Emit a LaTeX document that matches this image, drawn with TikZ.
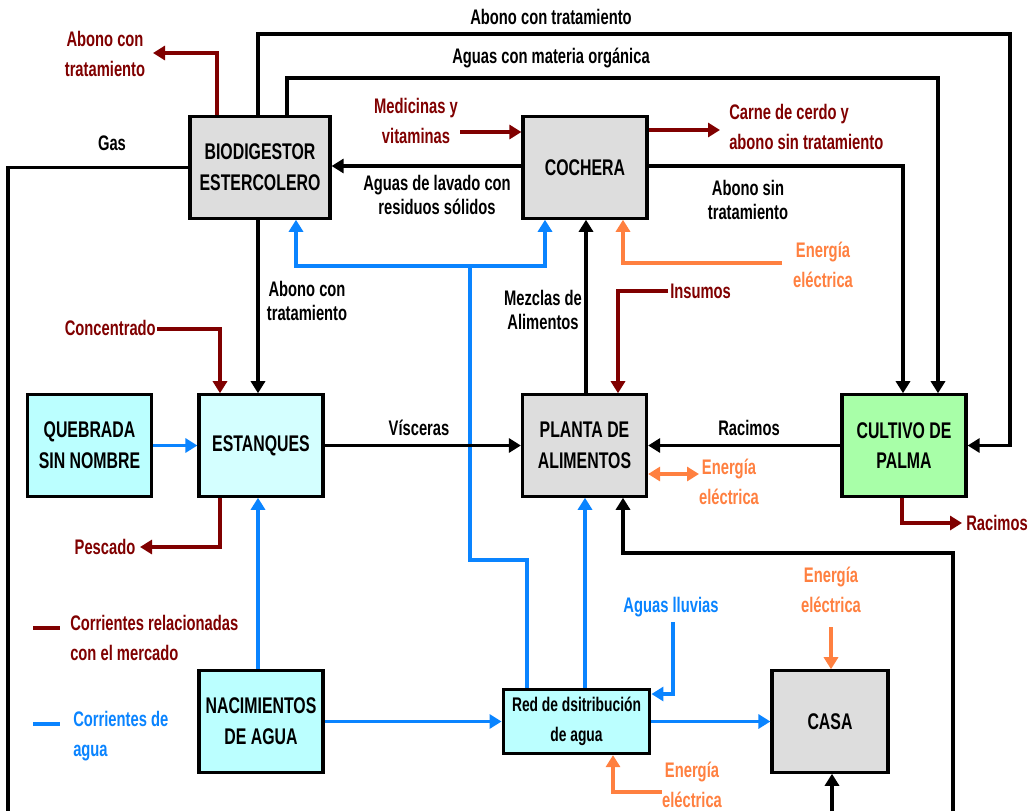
\documentclass[tikz,border=0pt]{standalone}
\usepackage{fontspec}
\setmainfont{Liberation Sans}[FakeStretch=0.7]
\usetikzlibrary{arrows.meta}
\definecolor{mercado}{HTML}{800000}
\definecolor{agua}{HTML}{0A84FF}
\definecolor{energia}{HTML}{FF8040}
\definecolor{gris}{HTML}{DDDDDD}
\definecolor{cian}{HTML}{BBFFFF}
\definecolor{cianclaro}{HTML}{D4FFFF}
\definecolor{verde}{HTML}{A8FFA8}
\tikzset{
  caja/.style={draw=black,line width=2.4pt,inner sep=0pt,minimum width=93pt,minimum height=76pt,align=center,font=\bfseries\fontsize{17}{23}\selectfont},
  nota/.style={align=center,inner sep=0pt,font=\bfseries\fontsize{15.8}{17.5}\selectfont},
  notac/.style={nota,font=\bfseries\fontsize{15.8}{22.5}\selectfont},
  lin/.style={line width=2.3pt},
  neg/.style={lin,-{Triangle[length=9pt,width=10.5pt]}},
  mkt/.style={neg,draw=mercado},
  agu/.style={neg,draw=agua},
  ene/.style={neg,draw=energia}
}
\begin{document}
\begin{tikzpicture}[x=0.75pt,y=-0.75pt]
\fill[white] (0,0) rectangle (1034,811);
\useasboundingbox (0,0) rectangle (1034,811);
\node[caja,fill=gris,minimum width=105pt] (bio) at (260,167.5) {BIODIGESTOR\\ESTERCOLERO};
\node[caja,fill=gris] (coch) at (585,167.5) {COCHERA};
\node[caja,fill=cian] (queb) at (89.5,445.5) {QUEBRADA\\SIN NOMBRE};
\node[caja,fill=cianclaro] (est) at (261,445.5) {ESTANQUES};
\node[caja,fill=gris] (planta) at (584.5,445.5) {PLANTA DE\\ALIMENTOS};
\node[caja,fill=verde] (cult) at (904,445.5) {CULTIVO DE\\PALMA};
\node[caja,fill=cian] (nac) at (261,721.5) {NACIMIENTOS\\DE AGUA};
\node[caja,fill=cian,minimum width=110pt,minimum height=48pt,font=\bfseries\fontsize{14.8}{22.5}\selectfont] (redagua) at (576.5,721.5) {Red de dsitribución\\de agua};
\node[caja,fill=gris,minimum width=87pt] (casa) at (830,721.5) {CASA};

\coordinate (pAbono) at (153,53);
\coordinate (pGas) at (8,811);
\coordinate (pMed) at (460,132);
\coordinate (pCarne) at (720,130);
\coordinate (pEner1) at (782,263);
\coordinate (pIns) at (668,291);
\coordinate (pConc) at (157,329);
\coordinate (pEner2) at (699,474);
\coordinate (pRac) at (962,523);
\coordinate (pPesc) at (140,547);
\coordinate (pLluv) at (673,622);
\coordinate (pEner3) at (831,627);
\coordinate (pEner4) at (662,792);
\coordinate (pCasa) at (832,811);
\coordinate (pPlanta) at (953,811);
\coordinate (pAgua) at (470,266);

\node[nota] (lTop1) at (551,17) {Abono con tratamiento};
\node[nota] (lTop2) at (551,58) {Aguas con materia orgánica};
\node[nota] (lGas) at (112,143) {Gas};
\node[notac,text=mercado] (lAbono) at (105,54) {Abono con\\tratamiento};
\node[notac,text=mercado] (lMed) at (416,121) {Medicinas y\\vitaminas};
\node[notac,text=mercado,anchor=west,align=left] (lCarne) at (729,127) {Carne de cerdo y\\abono sin tratamiento};
\node[nota] (lLavado) at (437,195) {Aguas de lavado con\\residuos sólidos};
\node[nota] (lAbonoSin) at (748,200) {Abono sin\\tratamiento};
\node[notac,text=energia] (lEner1) at (823,265) {Energía\\eléctrica};
\node[nota] (lAbonoCon) at (307,301) {Abono con\\tratamiento};
\node[nota,text=mercado,anchor=east] (lConc) at (156,328) {Concentrado};
\node[nota] (lMezclas) at (543,310) {Mezclas de\\Alimentos};
\node[nota,text=mercado,anchor=west] (lIns) at (670,291) {Insumos};
\node[nota] (lVisc) at (419,428) {Vísceras};
\node[nota] (lRac) at (749,428) {Racimos};
\node[notac,text=energia] (lEner2) at (729,482) {Energía\\eléctrica};
\node[nota,text=mercado,anchor=west] (lRac2) at (966,523) {Racimos};
\node[nota,text=mercado] (lPesc) at (105,547) {Pescado};
\node[notac,text=mercado,anchor=west,align=left] (lLeg1) at (70,638) {Corrientes relacionadas\\con el mercado};
\node[notac,text=agua,anchor=west,align=left] (lLeg2) at (73,736) {Corrientes de\\agua};
\node[nota,text=agua] (lLluv) at (671,607) {Aguas lluvias};
\node[notac,text=energia] (lEner3) at (831,590) {Energía\\eléctrica};
\node[notac,text=energia] (lEner4) at (692,785) {Energía\\eléctrica};

\draw[lin,draw=mercado] (33,628) -- (60,628);
\draw[lin,draw=agua] (33,724) -- (60,724);

\draw[mkt] (bio.north -| 217,0) |- (pAbono);
\draw[neg] (bio.north -| 258,0) |- (1010,34) |- (cult.east);
\draw[neg] (bio.north -| 287,0) |- (938,78) -- (cult.north -| 938,0);
\draw[lin] (bio.west) -| (pGas);
\draw[mkt] (pMed) -- (coch.west |- pMed);
\draw[mkt] (coch.east |- pCarne) -- (pCarne);
\draw[neg] (coch.west |- 0,166) -- (bio.east |- 0,166);
\draw[neg] (coch.east |- 0,166) -| (cult.north -| 903,0);
\draw[agu] (redagua.north -| 527,0) |- (470,560) -- (pAgua) -| (bio.south -| 296,0);
\draw[agu] (pAgua) -| (coch.south -| 545,0);
\draw[agu] (redagua.north -| 585,0) -- (planta.south -| 585,0);
\draw[neg] (planta.north -| 586,0) -- (coch.south -| 586,0);
\draw[ene] (pEner1) -| (coch.south -| 623,0);
\draw[mkt] (pIns) -| (planta.north -| 618,0);
\draw[mkt] (pConc) -| (est.north -| 220,0);
\draw[neg] (bio.south -| 258,0) -- (est.north -| 258,0);
\draw[agu] (queb) -- (est);
\draw[neg] (est) -- (planta);
\draw[neg] (cult) -- (planta);
\draw[ene,{Triangle[length=9pt,width=10.5pt]}-{Triangle[length=9pt,width=10.5pt]}] (planta.east |- pEner2) -- (pEner2);
\draw[mkt] (cult.south -| 902,0) |- (pRac);
\draw[mkt] (est.south -| 220,0) |- (pPesc);
\draw[agu] (nac.north -| 258,0) -- (est.south -| 258,0);
\draw[agu] (nac) -- (redagua);
\draw[agu] (pLluv) |- (redagua.east |- 0,694);
\draw[agu] (redagua) -- (casa);
\draw[ene] (pEner3) -- (casa.north -| pEner3);
\draw[ene] (pEner4) -| (redagua.south -| 613,0);
\draw[neg] (pCasa) -- (casa.south -| pCasa);
\draw[neg] (pPlanta) |- (623,553) -- (planta.south -| 623,0);
\end{tikzpicture}
\end{document}
